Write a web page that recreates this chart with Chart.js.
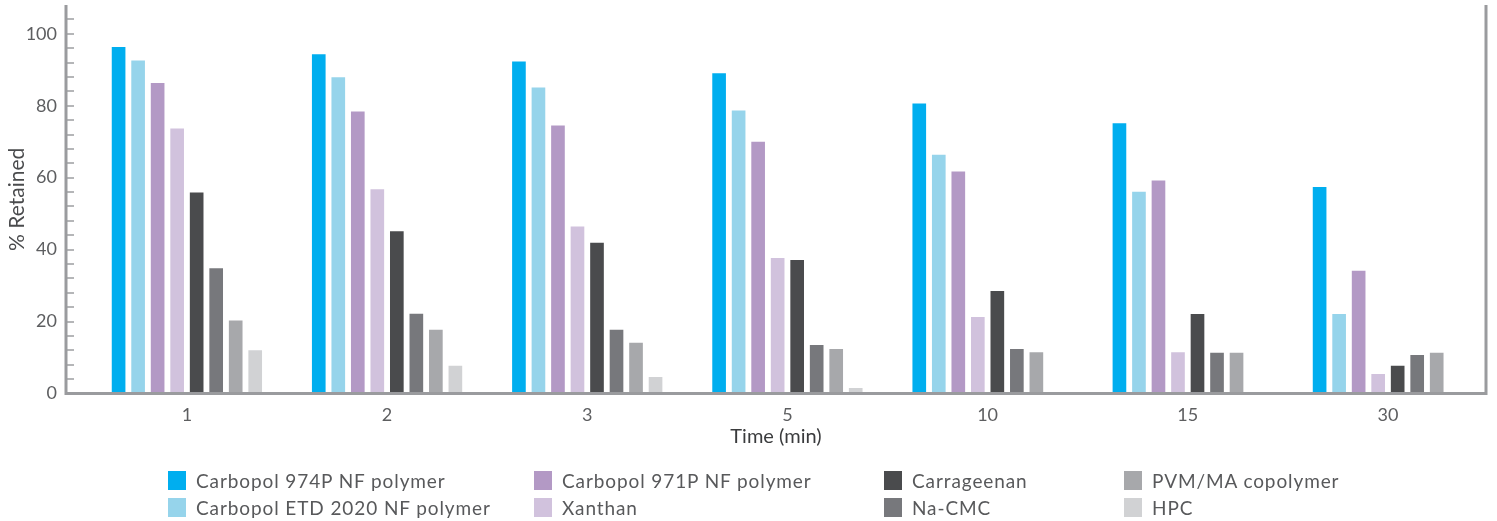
<!DOCTYPE html>
<html>
<head>
<meta charset="utf-8">
<script src="https://cdn.jsdelivr.net/npm/chart.js@4/dist/chart.umd.min.js"></script>
<style>
    html, body { margin: 0; padding: 0; background: #fff; }
    #wrap { position: relative; width: 1497px; height: 521px; }
    #legend { position: absolute; left: 0; top: 0; width: 1497px; height: 521px; pointer-events: none;
              font-family: Lato, sans-serif; font-size: 19px; letter-spacing: 0.9px; color: #58595b; }
    .item { position: absolute; display: flex; align-items: center; white-space: nowrap; }
    .swatch { width: 18px; height: 19px; margin-right: 10px; }
</style>
</head>
<body>
<div id="wrap">
    <canvas id="retentionChart" width="1497" height="521"></canvas>
    <div id="legend"></div>
</div>
<script>
// time points (x categories)
const timePoints = ['1', '2', '3', '5', '10', '15', '30'];

// % retained per polymer
const carbopol974P    = [96.3, 94.3, 92.3, 89.0, 80.6, 75.1, 57.4];
const carbopolETD2020 = [92.6, 87.9, 85.1, 78.7, 66.4, 56.1, 22.1];
const carbopol971P    = [86.3, 78.4, 74.5, 70.0, 61.7, 59.2, 34.1];
const xanthan         = [73.7, 56.8, 46.4, 37.7, 21.3, 11.5, 5.4];
const carrageenan     = [55.9, 45.1, 41.9, 37.1, 28.5, 22.1, 7.7];
const naCMC           = [34.8, 22.2, 17.7, 13.5, 12.4, 11.3, 10.7];
const pvmMA           = [20.3, 17.7, 14.1, 12.4, 11.5, 11.3, 11.3];
const hpc             = [12.0, 7.7, 4.6, 1.5, 0.3, 0.3, 0.3];

const yTickLabels = [0, 20, 40, 60, 80, 100];

const series = [
    { label: 'Carbopol 974P NF polymer', data: carbopol974P, color: '#00aeef' },
    { label: 'Carbopol ETD 2020 NF polymer', data: carbopolETD2020, color: '#96d4eb' },
    { label: 'Carbopol 971P NF polymer', data: carbopol971P, color: '#b399c5' },
    { label: 'Xanthan', data: xanthan, color: '#d1c2dd' },
    { label: 'Carrageenan', data: carrageenan, color: '#4a4b4d' },
    { label: 'Na-CMC', data: naCMC, color: '#77787c' },
    { label: 'PVM/MA copolymer', data: pvmMA, color: '#a7a8ab' },
    { label: 'HPC', data: hpc, color: '#d1d2d4' },
];

// draws the open frame (left, bottom, right) and the small inner ticks
const axisFrame = {
    id: 'axisFrame',
    afterDatasetsDraw(chart) {
        const { ctx, chartArea: { left, right, top, bottom }, scales: { y } } = chart;
        ctx.save();
        ctx.strokeStyle = '#b5b6b8';
        ctx.lineWidth = 2;
        y.ticks.forEach((t) => {
            if (t.value === 0 || t.value === y.max) return;
            const py = Math.round(y.getPixelForValue(t.value));
            ctx.beginPath();
            ctx.moveTo(left, py);
            ctx.lineTo(left + 8, py);
            ctx.stroke();
        });
        ctx.strokeStyle = '#9a9b9e';
        ctx.lineWidth = 3;
        ctx.beginPath();
        ctx.moveTo(left, top);
        ctx.lineTo(left, bottom);
        ctx.lineTo(right, bottom);
        ctx.lineTo(right, top);
        ctx.stroke();
        ctx.restore();
    },
};

// keep the plot edges where the frame is, not pushed in by label heights
const noEdgePadding = (scale) => {
    scale.paddingTop = 0;
    scale.paddingBottom = 0;
    scale.paddingLeft = 0;
    scale.paddingRight = 0;
};

Chart.defaults.font.family = 'Lato, sans-serif';

const chart = new Chart(document.getElementById('retentionChart').getContext('2d'), {
    type: 'bar',
    data: {
        datasets: series.map((s) => ({
            label: s.label,
            data: s.data.map((v, i) => ({ x: i, y: v })),
            backgroundColor: s.color,
            borderWidth: 0,
            categoryPercentage: 0.78,
            barPercentage: 0.7,
        })),
    },
    options: {
        responsive: false,
        animation: false,
        devicePixelRatio: 1,
        layout: { padding: { top: 5, left: 0, right: 11, bottom: 71.5 } },
        plugins: { legend: { display: false }, tooltip: { enabled: false } },
        scales: {
            x: {
                type: 'linear',
                offset: false,
                min: -0.604,
                max: 6.49,
                grid: { display: false, drawTicks: false },
                border: { display: false },
                ticks: {
                    stepSize: 1,
                    includeBounds: false,
                    padding: 11,
                    color: '#5d5e60',
                    font: { size: 18 },
                    callback: (v) => timePoints[v] ?? '',
                },
                title: {
                    display: true,
                    text: 'Time (min)',
                    color: '#3a3b3d',
                    font: { size: 20 },
                    padding: { top: 0, bottom: 1 },
                },
                afterFit: (scale) => { scale.height = 56; noEdgePadding(scale); },
            },
            y: {
                min: 0,
                max: 108,
                grid: { display: false, drawTicks: false },
                border: { display: false },
                ticks: {
                    stepSize: 4,
                    autoSkip: false,
                    padding: 9,
                    color: '#5d5e60',
                    font: { size: 18 },
                    callback: (v) => (yTickLabels.includes(v) ? v : ''),
                },
                title: {
                    display: true,
                    text: '% Retained',
                    color: '#4a4b4d',
                    font: { size: 21 },
                    padding: { top: 5, bottom: 0 },
                },
                afterFit: (scale) => { scale.width = 66; noEdgePadding(scale); },
            },
        },
    },
    plugins: [axisFrame],
});

// legend laid out in columns, two entries per column
const legendCols = [168, 534, 884, 1124];
const legendRows = [469, 496];
const legendEl = document.getElementById('legend');
chart.data.datasets.forEach((ds, i) => {
    const item = document.createElement('div');
    item.className = 'item';
    item.style.left = legendCols[Math.floor(i / 2)] + 'px';
    item.style.top = legendRows[i % 2] + 'px';
    item.innerHTML = `<span class="swatch" style="background:${ds.backgroundColor}"></span><span>${ds.label}</span>`;
    legendEl.appendChild(item);
});
</script>
</body>
</html>
